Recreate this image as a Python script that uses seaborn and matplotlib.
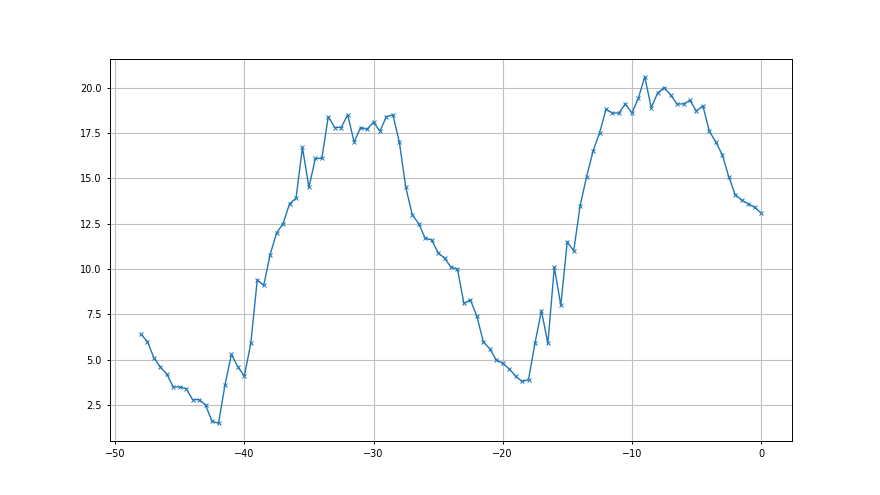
import numpy as np
import pandas as pd
import matplotlib
matplotlib.use("Agg")
import matplotlib.pyplot as plt
import seaborn as sns

# readings, one every half step from -48 to 0
x = np.arange(-48, 0.5, 0.5)
y = [6.4, 6.0, 5.1, 4.6, 4.2, 3.5, 3.5, 3.4, 2.8, 2.8,
     2.5, 1.6, 1.5, 3.6, 5.3, 4.6, 4.1, 5.9, 9.4, 9.1,
     10.8, 12.0, 12.5, 13.6, 13.9, 16.7, 14.5, 16.1, 16.1, 18.4,
     17.8, 17.8, 18.5, 17.0, 17.8, 17.7, 18.1, 17.6, 18.4, 18.5,
     17.0, 14.5, 13.0, 12.5, 11.7, 11.6, 10.9, 10.6, 10.1, 10.0,
     8.1, 8.3, 7.4, 6.0, 5.6, 5.0, 4.8, 4.5, 4.1, 3.8,
     3.9, 5.9, 7.7, 5.9, 10.1, 8.0, 11.5, 11.0, 13.5, 15.1,
     16.5, 17.5, 18.8, 18.6, 18.6, 19.1, 18.6, 19.4, 20.6, 18.9,
     19.7, 20.0, 19.6, 19.1, 19.1, 19.3, 18.7, 19.0, 17.6, 17.0,
     16.3, 15.1, 14.1, 13.8, 13.6, 13.4, 13.1]

df = pd.DataFrame({"x": x, "y": y})

sns.set_style("white")
fig, ax = plt.subplots(figsize=(8.8, 4.95), dpi=100)

sns.lineplot(data=df, x="x", y="y", marker="x", color="#1f77b4",
             linewidth=1.0, markersize=3.5, markeredgecolor="#1f77b4",
             markeredgewidth=0.7, ax=ax)

ax.grid(True, color="#c0c0c0", linewidth=0.8)
ax.set_xlabel("")
ax.set_ylabel("")
ax.set_xticks([-50, -40, -30, -20, -10, 0])
ax.set_yticks([2.5, 5.0, 7.5, 10.0, 12.5, 15.0, 17.5, 20.0])
ax.tick_params(labelsize=7, length=2.5, width=0.7, left=True, bottom=True,
               colors="black")
for s in ax.spines.values():
    s.set_color("black")
    s.set_linewidth(0.7)

fig.savefig("out.png", dpi=100)
